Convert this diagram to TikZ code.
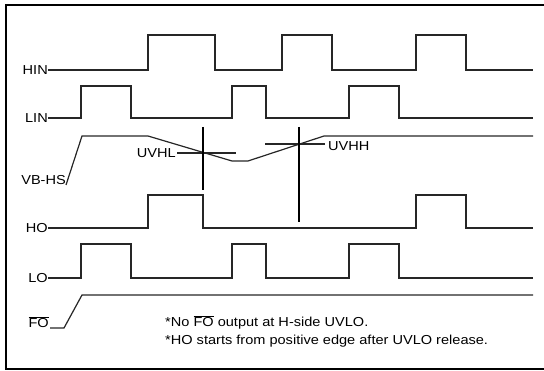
\documentclass[tikz,border=0pt]{standalone}
\usepackage{fontspec}
\setmainfont[FakeStretch=1.12]{Liberation Sans}
\begin{document}
\begin{tikzpicture}[x=1pt,y=-1pt,
  wave/.style={line width=1.2pt,black!85},
  lbl/.style={inner sep=0pt,anchor=east,font=\fontsize{13}{15}\selectfont},
  note/.style={inner sep=0pt,anchor=west,font=\fontsize{13}{15}\selectfont},
  thr/.style={line width=1.1pt,black!85},
  marker/.style={line width=2.2pt,dash pattern=on 1.6pt off 0.4pt}]
\useasboundingbox (0,0) rectangle (544,371);
\begin{scope}
\clip (0,0) rectangle (544,371);
\draw[line width=1.4pt] (560,5) -- (6,5) -- (6,369) -- (560,369);
\end{scope}
% labels
\node[lbl] (hin) at (48,70) {HIN};
\node[lbl] (lin) at (48,118) {LIN};
\node[lbl] (vb) at (66,180) {VB-HS};
\node[lbl] (ho) at (48,228) {HO};
\node[lbl] (lo) at (48,278) {LO};
\node[lbl] (fo) at (49,322) {$\overline{\mbox{FO}}$};
% HIN
\draw[wave] (hin.east) -- (148,70) -- (148,35) -- (215,35) -- (215,70) -- (282,70) -- (282,35) -- (332,35) -- (332,70) -- (416,70) -- (416,35) -- (466,35) -- (466,70) -- (533,70);
% LIN
\draw[wave] (lin.east) -- (81,118) -- (81,86) -- (131,86) -- (131,118) -- (232,118) -- (232,86) -- (266,86) -- (266,118) -- (349,118) -- (349,86) -- (399,86) -- (399,118) -- (533,118);
% VB-HS
\draw[wave] (66,185) -- (82,136) -- (148,136) -- (232,161) -- (248,161) -- (324,136) -- (533,136);
% thresholds
\draw[thr] (177,153) -- (236,153);
\node[lbl] (uvhl) at (176,153) {UVHL};
\draw[thr] (265,144) -- (325,144);
\node[note] (uvhh) at (328,146) {UVHH};
\coordinate (m1t) at (203,127);
\coordinate (m1b) at (203,190);
\coordinate (m2t) at (299,127);
\coordinate (m2b) at (299,222);
\draw[marker] (m1t) -- (m1b);
\draw[marker] (m2t) -- (m2b);
% HO
\draw[wave] (ho.east) -- (148,228) -- (148,195) -- (203,195) -- (203,228) -- (416,228) -- (416,195) -- (466,195) -- (466,228) -- (533,228);
% LO
\draw[wave] (lo.east) -- (81,278) -- (81,244) -- (131,244) -- (131,278) -- (232,278) -- (232,244) -- (266,244) -- (266,278) -- (349,278) -- (349,244) -- (399,244) -- (399,278) -- (533,278);
% FO
\draw[wave] (fo.east) ++(1,6) -- (64,328) -- (82,295) -- (533,295);
% notes
\node[note] (n1) at (165,322) {*No $\overline{\mbox{FO}}$ output at H-side UVLO.};
\node[note] (n2) at (165,341) {*HO starts from positive edge after UVLO release.};
\end{tikzpicture}
\end{document}
